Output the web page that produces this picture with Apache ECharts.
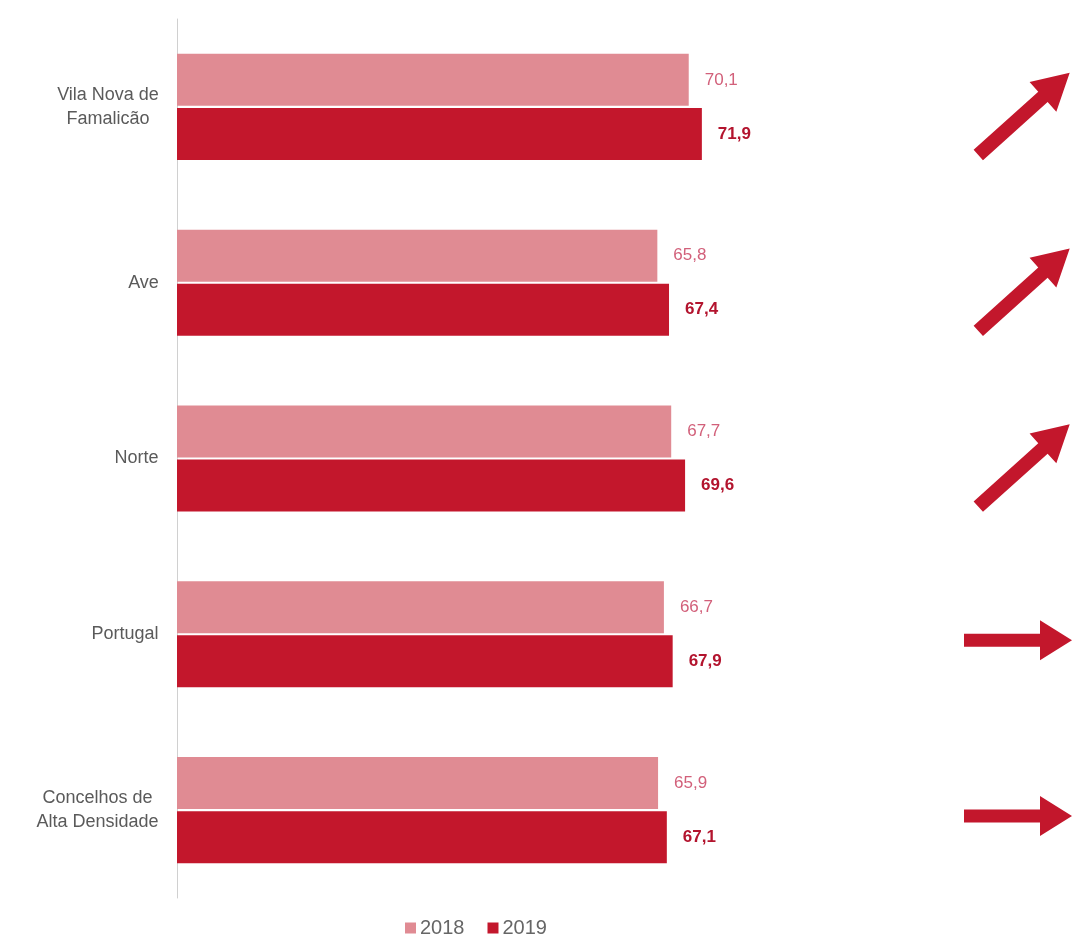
<!DOCTYPE html>
<html>
<head>
<meta charset="utf-8">
<script src="https://cdn.jsdelivr.net/npm/echarts@6/dist/echarts.min.js"></script>
<style>
  html, body { margin: 0; padding: 0; background: #ffffff; }
  #chart { width: 1074px; height: 939px; }
</style>
</head>
<body>
<div id="chart"></div>
<script>
// Categories, top to bottom
const categories = [
  'Vila Nova de\nFamalicão',
  'Ave',
  'Norte',
  'Portugal',
  'Concelhos de\nAlta Densidade'
];
const years = ['2018', '2019'];
const values2018 = [70.1, 65.8, 67.7, 66.7, 65.9];
const values2019 = [71.9, 67.4, 69.6, 67.9, 67.1];
// Trend indicator per category: 'up' or 'flat'
const trends = ['up', 'up', 'up', 'flat', 'flat'];

const FONT = '"Liberation Sans", Arial, sans-serif';
const COLOR_2018 = '#e08b93';
const COLOR_2019 = '#c3172c';
const CAT_FONT_SIZE = 18;

// Arrow shapes (pointing right; the rising one is rotated)
const ARROW_UP_PATH = 'path://M0,13 L87,13 L87,0 L123,20 L87,40 L87,27 L0,27 Z';
const ARROW_FLAT_PATH = 'path://M0,13.5 L76,13.5 L76,0 L108,20 L76,40 L76,26.5 L0,26.5 Z';

// Multi-line category labels: block right-aligned to the axis, lines centred in the block
const measureCtx = document.createElement('canvas').getContext('2d');
measureCtx.font = CAT_FONT_SIZE + 'px ' + FONT;
const rich = {};
categories.forEach((c, i) => {
  const w = Math.max(...c.split('\n').map(s => measureCtx.measureText(s).width));
  rich['c' + i] = {
    width: Math.ceil(w),
    align: 'center',
    fontSize: CAT_FONT_SIZE,
    lineHeight: 24,
    fontFamily: FONT,
    color: '#5a5a5a'
  };
});

const valueFormatter = p => p.value.toFixed(1).replace('.', ',');

const chart = echarts.init(document.getElementById('chart'), null, { renderer: 'canvas' });

const option = {
  backgroundColor: '#ffffff',
  animation: false,
  grid: [
    { left: 177, right: 167, top: 19, height: 879, containLabel: false },
    { left: 966, right: 0, top: 19, height: 879, containLabel: false }
  ],
  legend: {
    data: years,
    left: 400,
    top: 913,
    icon: 'rect',
    itemWidth: 11,
    itemHeight: 11,
    itemGap: 23,
    textStyle: { fontFamily: FONT, fontSize: 20, color: '#666666', padding: [0, 0, 0, -1] }
  },
  xAxis: [
    { gridIndex: 0, type: 'value', min: 0, max: 100, show: false },
    { gridIndex: 1, type: 'value', min: 0, max: 1, show: false }
  ],
  yAxis: [
    {
      gridIndex: 0,
      type: 'category',
      data: categories,
      inverse: true,
      axisLine: { show: true, lineStyle: { color: '#d0d0d0', width: 1 } },
      axisTick: { show: false },
      splitLine: { show: false },
      axisLabel: {
        margin: 18,
        formatter: (val, idx) => val.split('\n').map(s => '{c' + idx + '|' + s + '}').join('\n'),
        rich: rich
      }
    },
    {
      gridIndex: 1,
      type: 'category',
      data: categories,
      inverse: true,
      show: false
    }
  ],
  series: [
    {
      name: '2018',
      type: 'bar',
      xAxisIndex: 0,
      yAxisIndex: 0,
      data: values2018,
      barWidth: 52,
      barGap: '4%',
      itemStyle: { color: COLOR_2018 },
      label: {
        show: true,
        position: 'right',
        distance: 16,
        formatter: valueFormatter,
        fontFamily: FONT,
        fontSize: 17,
        color: '#d2607a'
      }
    },
    {
      name: '2019',
      type: 'bar',
      xAxisIndex: 0,
      yAxisIndex: 0,
      data: values2019,
      barWidth: 52,
      barGap: '4%',
      itemStyle: { color: COLOR_2019 },
      label: {
        show: true,
        position: 'right',
        distance: 16,
        formatter: valueFormatter,
        fontFamily: FONT,
        fontSize: 17,
        fontWeight: 'bold',
        color: '#b3142e'
      }
    },
    {
      name: 'tendência',
      type: 'scatter',
      xAxisIndex: 1,
      yAxisIndex: 1,
      silent: true,
      data: trends.map((t, i) => ({
        value: [0.5, i],
        symbol: t === 'up' ? ARROW_UP_PATH : ARROW_FLAT_PATH,
        symbolSize: t === 'up' ? [123, 40] : [108, 40],
        symbolRotate: t === 'up' ? 42 : 0,
        symbolOffset: t === 'up' ? [4, 7] : [-2, 6]
      })),
      itemStyle: { color: COLOR_2019, opacity: 1 }
    }
  ]
};

chart.setOption(option);
</script>
</body>
</html>
